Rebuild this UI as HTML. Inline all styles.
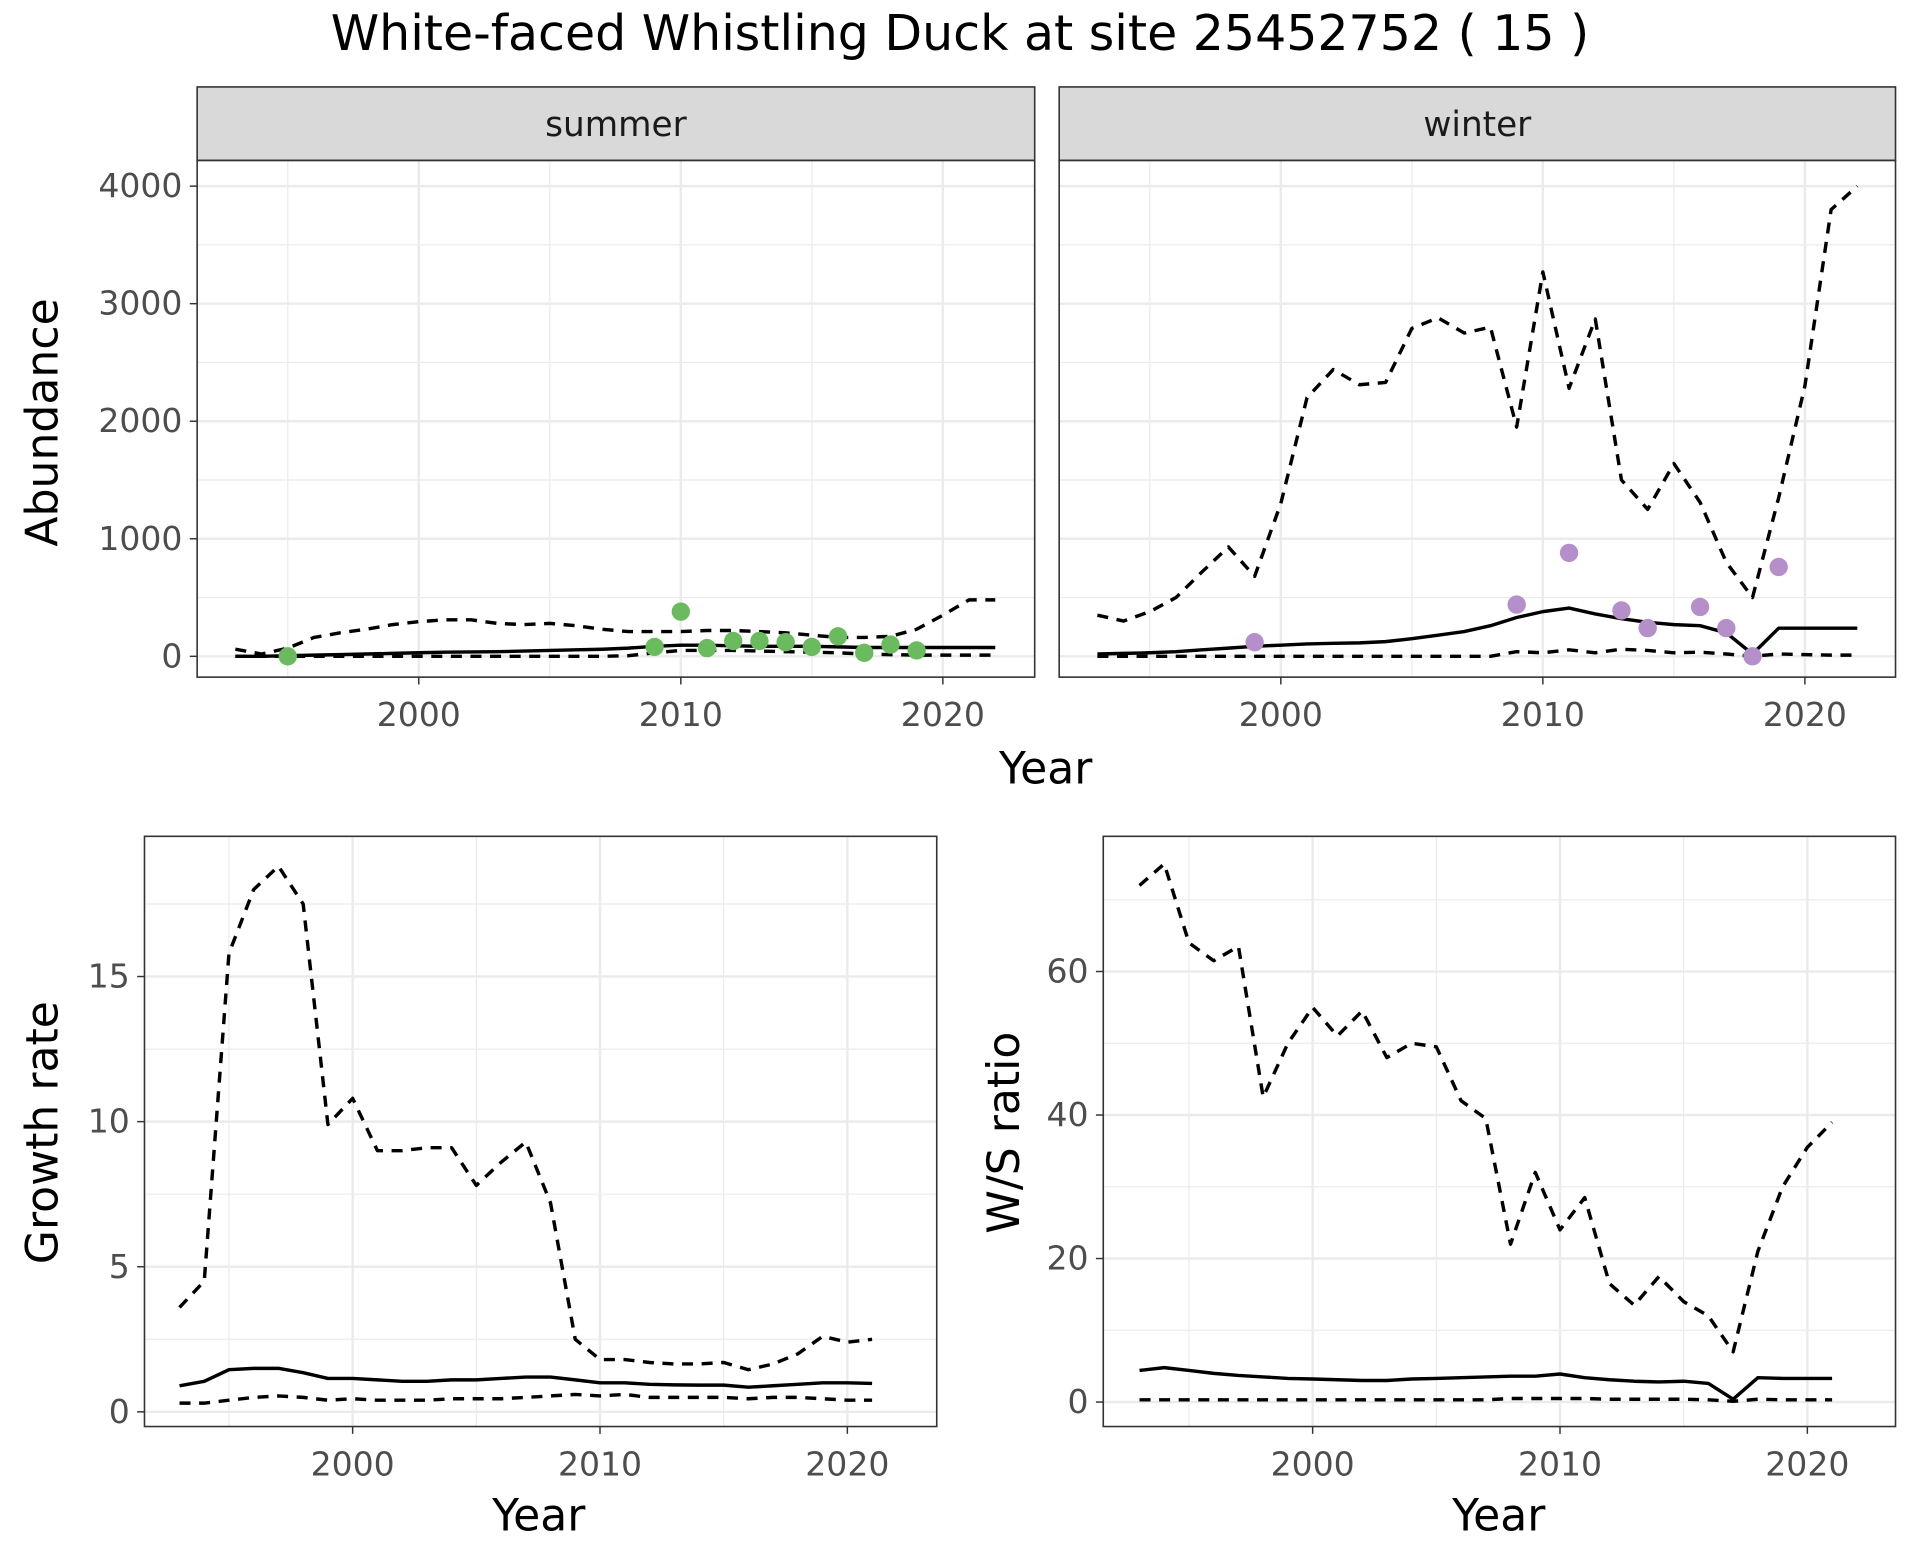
<!DOCTYPE html>
<html><head><meta charset="utf-8"><style>
html,body{margin:0;padding:0;background:#fff}
svg{display:block;font-family:"DejaVu Sans","Liberation Sans",sans-serif}
</style></head><body>
<svg id="chart" width="1920" height="1560" viewBox="0 0 1568 1274" preserveAspectRatio="none" xmlns="http://www.w3.org/2000/svg">
<text x="784" y="41" font-size="40" text-anchor="middle" fill="#000">White-faced Whistling Duck at site 25452752 ( 15 )</text>
<g id="g"></g>
</svg>
<script>
const yearsA = [1993,1994,1995,1996,1997,1998,1999,2000,2001,2002,2003,2004,2005,2006,2007,2008,2009,2010,2011,2012,2013,2014,2015,2016,2017,2018,2019,2020,2021,2022];
const summerUpper = [60,20,70,160,200,230,270,295,310,310,280,270,280,260,230,210,210,210,220,220,210,200,180,160,160,170,230,350,480,480];
const summerMean = [0,0,5,10,15,20,25,30,35,38,40,45,50,55,60,70,85,95,95,90,85,85,85,80,75,75,75,75,75,75];
const summerLower = [0,0,0,0,0,0,0,0,0,0,0,0,0,0,0,5,30,50,50,50,45,40,35,30,20,15,10,10,10,10];
const summerPtYears = [1995,2009,2010,2011,2012,2013,2014,2015,2016,2017,2018,2019];
const summerPts = [0,80,380,70,130,130,120,80,170,30,100,50];
const winterUpper = [350,300,380,500,720,930,680,1300,2200,2440,2310,2330,2790,2880,2750,2800,1950,3270,2280,2870,1500,1250,1640,1310,800,500,1350,2300,3800,4000];
const winterMean = [20,25,30,40,55,70,85,95,105,110,115,125,150,180,210,260,330,380,410,360,320,290,270,260,200,20,240,240,240,240];
const winterLower = [0,0,0,0,0,0,0,0,0,0,0,0,0,0,0,0,40,30,55,30,60,50,30,35,20,0,20,15,10,10];
const winterPtYears = [1999,2009,2011,2013,2014,2016,2017,2018,2019];
const winterPts = [120,440,880,390,240,420,240,0,760];
const yearsB = [1993,1994,1995,1996,1997,1998,1999,2000,2001,2002,2003,2004,2005,2006,2007,2008,2009,2010,2011,2012,2013,2014,2015,2016,2017,2018,2019,2020,2021];
const growthUpper = [3.6,4.5,15.8,18,18.8,17.5,9.9,10.8,9.0,9.0,9.1,9.1,7.8,8.6,9.3,7.2,2.5,1.8,1.8,1.7,1.65,1.65,1.7,1.45,1.65,2.0,2.6,2.4,2.5];
const growthMean = [0.9,1.05,1.45,1.5,1.5,1.35,1.15,1.15,1.1,1.05,1.05,1.1,1.1,1.15,1.2,1.2,1.1,1.0,1.0,0.95,0.93,0.92,0.92,0.85,0.9,0.95,1.0,1.0,0.98];
const growthLower = [0.3,0.3,0.4,0.5,0.55,0.5,0.4,0.45,0.4,0.4,0.4,0.45,0.45,0.45,0.5,0.55,0.6,0.55,0.6,0.5,0.5,0.5,0.5,0.45,0.5,0.5,0.45,0.4,0.4];
const wsUpper = [72,75,64,61.5,63.5,42.5,50,55,51,54.5,48,50,49.5,42,39.5,22,32,24,28.5,16.5,13.5,17.5,14,12,7,21,30,35.5,39];
const wsMean = [4.4,4.8,4.4,4.0,3.7,3.5,3.3,3.2,3.1,3.0,3.0,3.2,3.3,3.4,3.5,3.6,3.6,3.9,3.4,3.1,2.9,2.8,2.9,2.6,0.4,3.4,3.3,3.3,3.3];
const wsLower = [0.3,0.3,0.3,0.3,0.3,0.3,0.3,0.3,0.3,0.3,0.3,0.3,0.3,0.3,0.3,0.5,0.5,0.5,0.5,0.4,0.4,0.4,0.4,0.3,0.1,0.4,0.3,0.3,0.3];
const abundTicks = [0,1000,2000,3000,4000];
const growthTicks = [0,5,10,15];
const wsTicks = [0,20,40,60];
const xTicks = [2000,2010,2020];

const NS="http://www.w3.org/2000/svg";
const G=document.getElementById('g');
function mk(tag,attrs,parent){const e=document.createElementNS(NS,tag);for(const k in attrs)e.setAttribute(k,attrs[k]);(parent||G).appendChild(e);return e;}

function panel(name,x0,x1,y0,y1,xa,ya,yTicks,yMinorStep,showYLabels,strip){
  const sx=v=>xa[0]+(v-2000)*xa[1];
  const sy=v=>ya[0]-v*ya[1];
  const g=mk('g',{});
  
  
  mk('rect',{x:x0,y:y0,width:x1-x0,height:y1-y0,fill:'#fff'},g);
  for(let yr=1995;yr<=2025;yr+=10){const X=sx(yr);if(X>x0&&X<x1){const l=mk('line',{x1:X,x2:X,y1:y0,y2:y1,stroke:'#ebebeb','stroke-width':1},g);}}
  const top=yTicks[yTicks.length-1]+yMinorStep;
  for(let v=-yMinorStep;v<=top;v+=yMinorStep){const Y=sy(v);if(Y>y0&&Y<y1&&!yTicks.includes(v)){const l=mk('line',{x1:x0,x2:x1,y1:Y,y2:Y,stroke:'#ebebeb','stroke-width':1},g);}}
  xTicks.forEach(t=>{const X=sx(t);const l=mk('line',{x1:X,x2:X,y1:y0,y2:y1,stroke:'#ebebeb','stroke-width':2},g);
    mk('line',{x1:X,x2:X,y1:y1,y2:y1+6,stroke:'#333','stroke-width':1.2},g);
    const tx=mk('text',{x:X,y:y1+40,'font-size':27,'text-anchor':'middle',fill:'#4d4d4d'},g);tx.textContent=t;
    });
  yTicks.forEach(t=>{const Y=sy(t);const l=mk('line',{x1:x0,x2:x1,y1:Y,y2:Y,stroke:'#ebebeb','stroke-width':2},g);
    if(showYLabels){mk('line',{x1:x0-6,x2:x0,y1:Y,y2:Y,stroke:'#333','stroke-width':1.2},g);
    const tx=mk('text',{x:x0-12,y:Y+9,'font-size':27,'text-anchor':'end',fill:'#4d4d4d'},g);tx.textContent=t;
    }});
  if(strip){const r=mk('rect',{x:x0,y:y0-60,width:x1-x0,height:60,fill:'#d9d9d9',stroke:'#333','stroke-width':1.3},g);
    const t=mk('text',{x:(x0+x1)/2,y:y0-20,'font-size':28,'text-anchor':'middle',fill:'#1a1a1a'},g);t.textContent=strip;}
  return {g,sx,sy,close:()=>{const b=mk('rect',{x:x0,y:y0,width:x1-x0,height:y1-y0,fill:'none',stroke:'#333','stroke-width':1.3},g);}};
}
function line(p,xs,vs,dash,name){
  const d=xs.map((x,i)=>(i?'L':'M')+p.sx(x).toFixed(1)+','+p.sy(vs[i]).toFixed(1)).join('');
  const e=mk('path',{d:d,fill:'none',stroke:'#000','stroke-width':2.8,'stroke-dasharray':dash?'9,7':'none','stroke-linejoin':'round'},p.g);
  
  
}
function pts(p,xs,vs,col,name){xs.forEach((x,i)=>{const c=mk('circle',{cx:p.sx(x),cy:p.sy(vs[i]),r:7.5,fill:col},p.g);
  
  });}

const ps=panel('summer',161,845,131,553,[342,21.4],[536,0.096],abundTicks,500,true,'summer');
line(ps,yearsA,summerUpper,true,'summer-upper-ci');line(ps,yearsA,summerLower,true,'summer-lower-ci');line(ps,yearsA,summerMean,false,'summer-mean');
pts(ps,summerPtYears,summerPts,'#6abb5d','summer-count-point');ps.close();
const pw=panel('winter',865,1548,131,553,[1046,21.4],[536,0.096],abundTicks,500,false,'winter');
line(pw,yearsA,winterUpper,true,'winter-upper-ci');line(pw,yearsA,winterLower,true,'winter-lower-ci');line(pw,yearsA,winterMean,false,'winter-mean');
pts(pw,winterPtYears,winterPts,'#b48fca','winter-count-point');pw.close();
const pg=panel('growth',118,765,683,1165,[288,20.2],[1153,23.7],growthTicks,2.5,true,null);
line(pg,yearsB,growthUpper,true,'growth-upper-ci');line(pg,yearsB,growthLower,true,'growth-lower-ci');line(pg,yearsB,growthMean,false,'growth-mean');pg.close();
const pr=panel('ws-ratio',901,1548,683,1165,[1072,20.2],[1145,5.86],wsTicks,10,true,null);
line(pr,yearsB,wsUpper,true,'ws-upper-ci');line(pr,yearsB,wsLower,true,'ws-lower-ci');line(pr,yearsB,wsMean,false,'ws-mean');pr.close();

function label(txt,x,y,rot,name){const t=mk('text',{x:x,y:y,'font-size':36,'text-anchor':'middle',fill:'#000',transform:rot?`rotate(-90 ${x} ${y})`:''});t.textContent=txt;
  
  }
label('Abundance',47,345,true,'y-axis-title-abundance');
label('Year',854,640,false,'x-axis-title-top');
label('Growth rate',47,925,true,'y-axis-title-growth');
label('Year',440,1250,false,'x-axis-title-growth');
label('W/S ratio',832,925,true,'y-axis-title-ws');
label('Year',1224,1250,false,'x-axis-title-ws');
</script>
</body></html>
